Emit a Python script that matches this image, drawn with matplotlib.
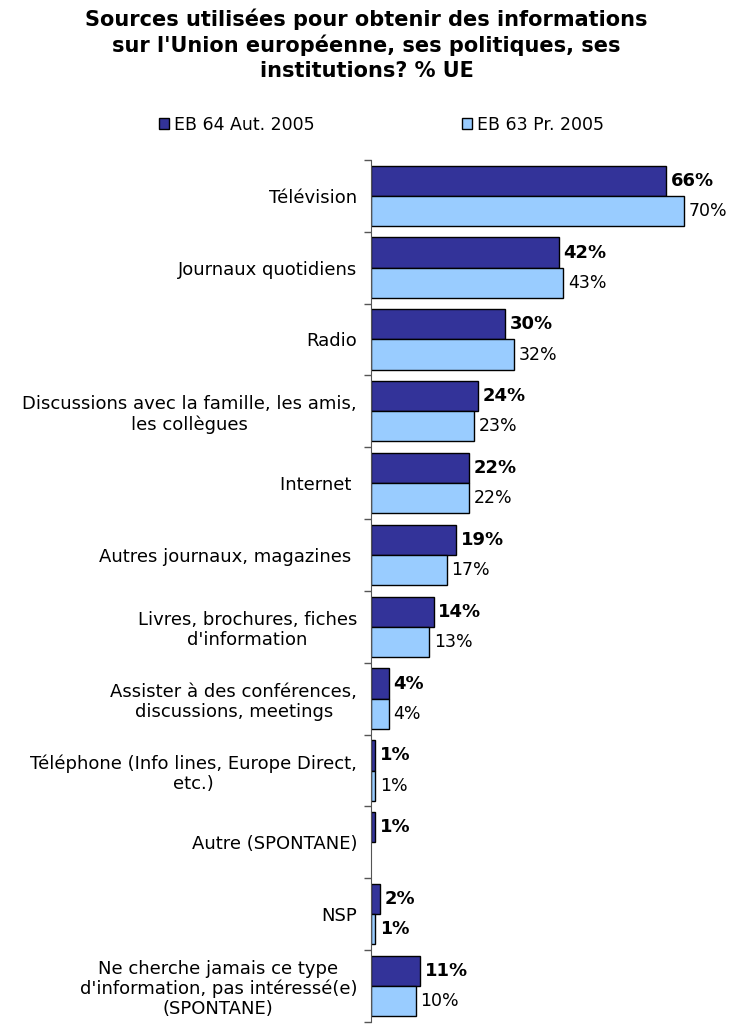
import matplotlib.pyplot as plt
from matplotlib.patches import Patch

categories = [
    "Télévision",
    "Journaux quotidiens",
    "Radio",
    "Discussions avec la famille, les amis,\nles collègues",
    "Internet ",
    "Autres journaux, magazines ",
    "Livres, brochures, fiches\nd'information",
    "Assister à des conférences,\ndiscussions, meetings",
    "Téléphone (Info lines, Europe Direct,\netc.)",
    "Autre (SPONTANE)",
    "NSP",
    "Ne cherche jamais ce type\nd'information, pas intéressé(e)\n(SPONTANE)",
]
eb64 = [66, 42, 30, 24, 22, 19, 14, 4, 1, 1, 2, 11]
eb63 = [70, 43, 32, 23, 22, 17, 13, 4, 1, None, 1, 10]
series_names = ["EB 64 Aut. 2005", "EB 63 Pr. 2005"]

dark = "#333399"
light = "#99ccff"

plt.rcParams['font.family'] = ['DejaVu Sans']
fig = plt.figure(figsize=(7.33, 10.25), dpi=100)
ax = fig.add_axes([371 / 733, 0.003, 358 / 733, 0.841])

n = len(categories)
h = 0.42
for i in range(n):
    y = i
    ax.barh(y - h / 2, eb64[i], height=h, color=dark, edgecolor="black", linewidth=1)
    ax.text(eb64[i] + 1.0, y - h / 2, f"{eb64[i]}%", va="center", ha="left",
            fontsize=13, fontweight="bold")
    if eb63[i] is not None:
        ax.barh(y + h / 2, eb63[i], height=h, color=light, edgecolor="black", linewidth=1)
        bold = categories[i] == "NSP"
        ax.text(eb63[i] + 1.0, y + h / 2, f"{eb63[i]}%", va="center", ha="left",
                fontsize=12.5, fontweight="bold" if bold else "normal")

ax.set_ylim(n - 0.5, -0.5)
ax.set_xlim(0, 80)
ax.set_yticks(range(n))
ax.set_yticklabels(categories, fontsize=13, multialignment="center", linespacing=1.15)
ax.set_yticks([i - 0.5 for i in range(n + 1)], minor=True)
ax.tick_params(axis="y", which="major", length=0, pad=10)
ax.tick_params(axis="y", which="minor", length=5, direction="out", width=1, color="#555555")
ax.set_xticks([])
for s in ["top", "right", "bottom"]:
    ax.spines[s].set_visible(False)
ax.spines["left"].set_color("#555555")

fig.text(0.5, 0.992, "Sources utilisées pour obtenir des informations\nsur l'Union européenne, ses politiques, ses\ninstitutions? % UE",
         ha="center", va="top", fontsize=15, fontweight="bold", linespacing=1.3)

handles = [Patch(facecolor=dark, edgecolor="black"), Patch(facecolor=light, edgecolor="black")]
fig.legend(handles, series_names, loc="center", bbox_to_anchor=(0.52, 0.878), ncol=2,
           frameon=False, fontsize=12.5, handlelength=0.6, handleheight=0.6,
           handletextpad=0.25, columnspacing=8.5)

fig.savefig("out.png", dpi=100)
